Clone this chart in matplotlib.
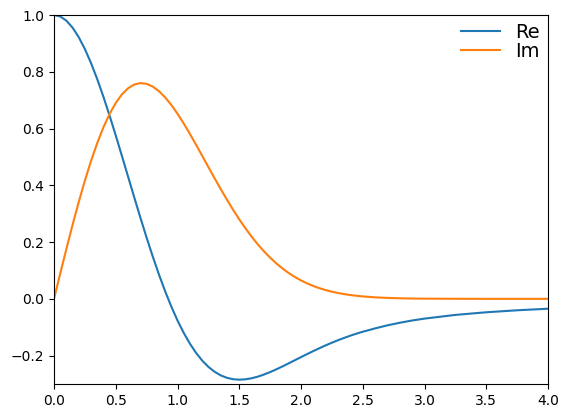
import matplotlib
matplotlib.use("Agg")
import matplotlib.pyplot as plt

x = [0.00, 0.05, 0.10, 0.15, 0.20, 0.25, 0.30, 0.35, 0.40, 0.45,
     0.50, 0.55, 0.60, 0.65, 0.70, 0.75, 0.80, 0.85, 0.90, 0.95,
     1.00, 1.05, 1.10, 1.15, 1.20, 1.25, 1.30, 1.35, 1.40, 1.45,
     1.50, 1.55, 1.60, 1.65, 1.70, 1.75, 1.80, 1.85, 1.90, 1.95,
     2.00, 2.05, 2.10, 2.15, 2.20, 2.25, 2.30, 2.35, 2.40, 2.45,
     2.50, 2.60, 2.70, 2.80, 2.90, 3.00, 3.25, 3.50, 3.75, 4.00]

re_vals = [1.0000, 0.9950, 0.9801, 0.9557, 0.9221, 0.8801, 0.8304, 0.7741, 0.7121, 0.6455,
           0.5756, 0.5034, 0.4303, 0.3572, 0.2853, 0.2155, 0.1486, 0.0855, 0.0267, -0.0273,
           -0.0762, -0.1196, -0.1576, -0.1902, -0.2175, -0.2396, -0.2568, -0.2696, -0.2782, -0.2831,
           -0.2848, -0.2835, -0.2798, -0.2741, -0.2667, -0.2580, -0.2484, -0.2381, -0.2273, -0.2163,
           -0.2054, -0.1945, -0.1839, -0.1737, -0.1638, -0.1545, -0.1457, -0.1375, -0.1297, -0.1225,
           -0.1159, -0.1041, -0.0933, -0.0842, -0.0763, -0.0696, -0.0566, -0.0473, -0.0403, -0.0348]

im_vals = [0.0000, 0.0884, 0.1755, 0.2600, 0.3406, 0.4163, 0.4860, 0.5488, 0.6042, 0.6514,
           0.6902, 0.7204, 0.7420, 0.7551, 0.7601, 0.7574, 0.7477, 0.7315, 0.7096, 0.6829,
           0.6521, 0.6180, 0.5814, 0.5432, 0.5039, 0.4644, 0.4252, 0.3867, 0.3495, 0.3139,
           0.2802, 0.2486, 0.2192, 0.1922, 0.1675, 0.1451, 0.1250, 0.1070, 0.0911, 0.0771,
           0.0649, 0.0544, 0.0452, 0.0375, 0.0308, 0.0252, 0.0206, 0.0166, 0.0134, 0.0107,
           0.0086, 0.0053, 0.0033, 0.0020, 0.0011, 0.0007, 0.0002, 0.0000, 0.0000, 0.0000]

fig = plt.figure(figsize=(5.70, 4.18), dpi=100)
ax = fig.add_axes([54/570, (418-384)/418, 494/570, 369/418])
ax.plot(x, re_vals, color="#1f77b4", label="Re")
ax.plot(x, im_vals, color="#ff7f0e", label="Im")
ax.set_xlim(0, 4)
ax.set_ylim(-0.3, 1.0)
ax.legend(loc="upper right", frameon=False, fontsize=14,
          labelspacing=0, borderaxespad=0)
fig.savefig("out.png", dpi=100)
